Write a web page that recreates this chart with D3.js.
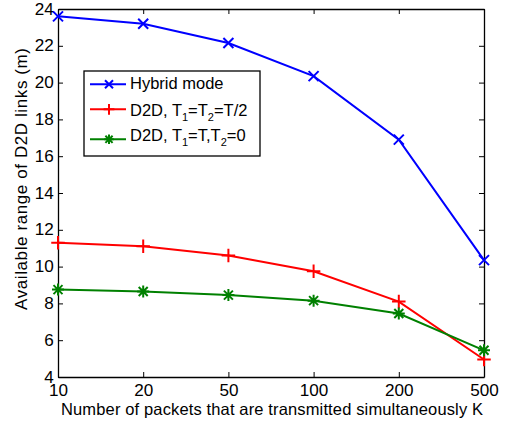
<!DOCTYPE html>
<html>
<head>
<meta charset="utf-8">
<script src="https://cdn.jsdelivr.net/npm/d3@7"></script>
<style>
  body { margin: 0; background: #fff; }
  text { font-family: "Liberation Sans", Arial, sans-serif; }
</style>
</head>
<body>
<div id="chart"></div>
<script>
(function () {

  // Data
  const packets = ["10", "20", "50", "100", "200", "500"];
  const hybrid = [23.6, 23.2, 22.15, 20.35, 16.9, 10.35];
  const d2dHalf = [11.3, 11.1, 10.6, 9.75, 8.1, 4.95];
  const d2dFull = [8.75, 8.65, 8.45, 8.15, 7.45, 5.45];
  const yTicks = [4, 6, 8, 10, 12, 14, 16, 18, 20, 22, 24];

  const series = [
    { name: "hybrid", values: hybrid, color: "#0000ff", marker: "x" },
    { name: "half", values: d2dHalf, color: "#ff0000", marker: "+" },
    { name: "full", values: d2dFull, color: "#008000", marker: "*" }
  ];

  const W = 508, H = 422;
  const margin = { top: 9, right: 24, bottom: 45, left: 58 },
        width = W - margin.left - margin.right,
        height = H - margin.top - margin.bottom;

  const root = d3.select("#chart").append("svg")
    .attr("width", W)
    .attr("height", H);

  const svg = root.append("g")
    .attr("transform", `translate(${margin.left},${margin.top})`);

  const x = d3.scalePoint().domain(packets).range([0, width]);
  const y = d3.scaleLinear().domain([4, 24]).range([height, 0]);

  // Axes, ticks pointing inward, box on all sides
  const tickLen = 5;
  const bottom = svg.append("g")
    .attr("transform", `translate(0,${height})`)
    .call(d3.axisBottom(x).tickSizeInner(-tickLen).tickSizeOuter(0).tickPadding(8));
  const top = svg.append("g")
    .call(d3.axisTop(x).tickSizeInner(-tickLen).tickSizeOuter(0).tickFormat(""));
  const left = svg.append("g")
    .call(d3.axisLeft(y).tickValues(yTicks).tickSizeInner(-tickLen).tickSizeOuter(0).tickPadding(4));
  const right = svg.append("g")
    .attr("transform", `translate(${width},0)`)
    .call(d3.axisRight(y).tickValues(yTicks).tickSizeInner(-tickLen).tickSizeOuter(0).tickFormat(""));

  [bottom, top, left, right].forEach(g => {
    g.select(".domain").attr("stroke", "#000").attr("stroke-width", 1.3);
    g.selectAll(".tick line").attr("stroke", "#000");
    g.selectAll("text").style("font-size", "16px").attr("fill", "#000")
      .style("font-family", '"Liberation Sans", Arial, sans-serif')
      .attr("transform", "scale(1.07,1)");
  });

  // Marker drawing
  function drawMarker(g, type, cx, cy, color, s) {
    if (type === "x") {
      g.append("path")
        .attr("d", `M${cx - s},${cy - s}L${cx + s},${cy + s}M${cx - s},${cy + s}L${cx + s},${cy - s}`)
        .attr("stroke", color).attr("stroke-width", 2).attr("fill", "none");
    } else if (type === "+") {
      const r = s * 1.35;
      g.append("path")
        .attr("d", `M${cx - r},${cy}L${cx + r},${cy}M${cx},${cy - r}L${cx},${cy + r}`)
        .attr("stroke", color).attr("stroke-width", 2).attr("fill", "none");
    } else {
      const r = s * 1.2, d = r * 0.75;
      g.append("path")
        .attr("d", `M${cx - r},${cy}L${cx + r},${cy}M${cx},${cy - r}L${cx},${cy + r}` +
                   `M${cx - d},${cy - d}L${cx + d},${cy + d}M${cx - d},${cy + d}L${cx + d},${cy - d}`)
        .attr("stroke", color).attr("stroke-width", 2).attr("fill", "none");
    }
  }

  const line = d3.line()
    .x((d, i) => x(packets[i]))
    .y(d => y(d));

  series.forEach(s => {
    svg.append("path")
      .datum(s.values)
      .attr("d", line)
      .attr("fill", "none")
      .attr("stroke", s.color)
      .attr("stroke-width", 2);
    const mg = svg.append("g");
    s.values.forEach((v, i) => drawMarker(mg, s.marker, x(packets[i]), y(v), s.color, 5));
  });

  // Legend
  const legend = root.append("g").attr("transform", "translate(84,71)");
  legend.append("rect")
    .attr("width", 176).attr("height", 85)
    .attr("fill", "#fff").attr("stroke", "#000").attr("stroke-width", 1.3);

  const labels = [
    { color: "#0000ff", marker: "x", ly: 13.3, ty: 18.3, parts: [["Hybrid mode", false]] },
    { color: "#ff0000", marker: "+", ly: 38.3, ty: 44.5, parts: [["D2D, T", false], ["1", true], ["=T", false], ["2", true], ["=T/2", false]] },
    { color: "#008000", marker: "*", ly: 68.3, ty: 70, parts: [["D2D, T", false], ["1", true], ["=T,T", false], ["2", true], ["=0", false]] }
  ];

  labels.forEach(l => {
    legend.append("line")
      .attr("x1", 6).attr("x2", 42).attr("y1", l.ly).attr("y2", l.ly)
      .attr("stroke", l.color).attr("stroke-width", 2);
    drawMarker(legend, l.marker, 25, l.ly, l.color, 4);
    const t = legend.append("text")
      .attr("x", 46).attr("y", l.ty)
      .style("font-size", "16.5px").attr("fill", "#000");
    l.parts.forEach((p, j) => {
      const ts = t.append("tspan").text(p[0]);
      if (p[1]) ts.attr("dy", 5).style("font-size", "11px");
      else if (j > 0) ts.attr("dy", -5);
    });
  });

  // Axis labels
  root.append("text")
    .attr("x", 272)
    .attr("y", 414.5)
    .attr("text-anchor", "middle")
    .attr("textLength", 422)
    .style("font-size", "16.5px")
    .text("Number of packets that are transmitted simultaneously K");

  root.append("text")
    .attr("transform", "translate(27,179) rotate(-90)")
    .attr("text-anchor", "middle")
    .attr("textLength", 262)
    .style("font-size", "17px")
    .text("Available range of D2D links (m)");

})();
</script>
</body>
</html>
